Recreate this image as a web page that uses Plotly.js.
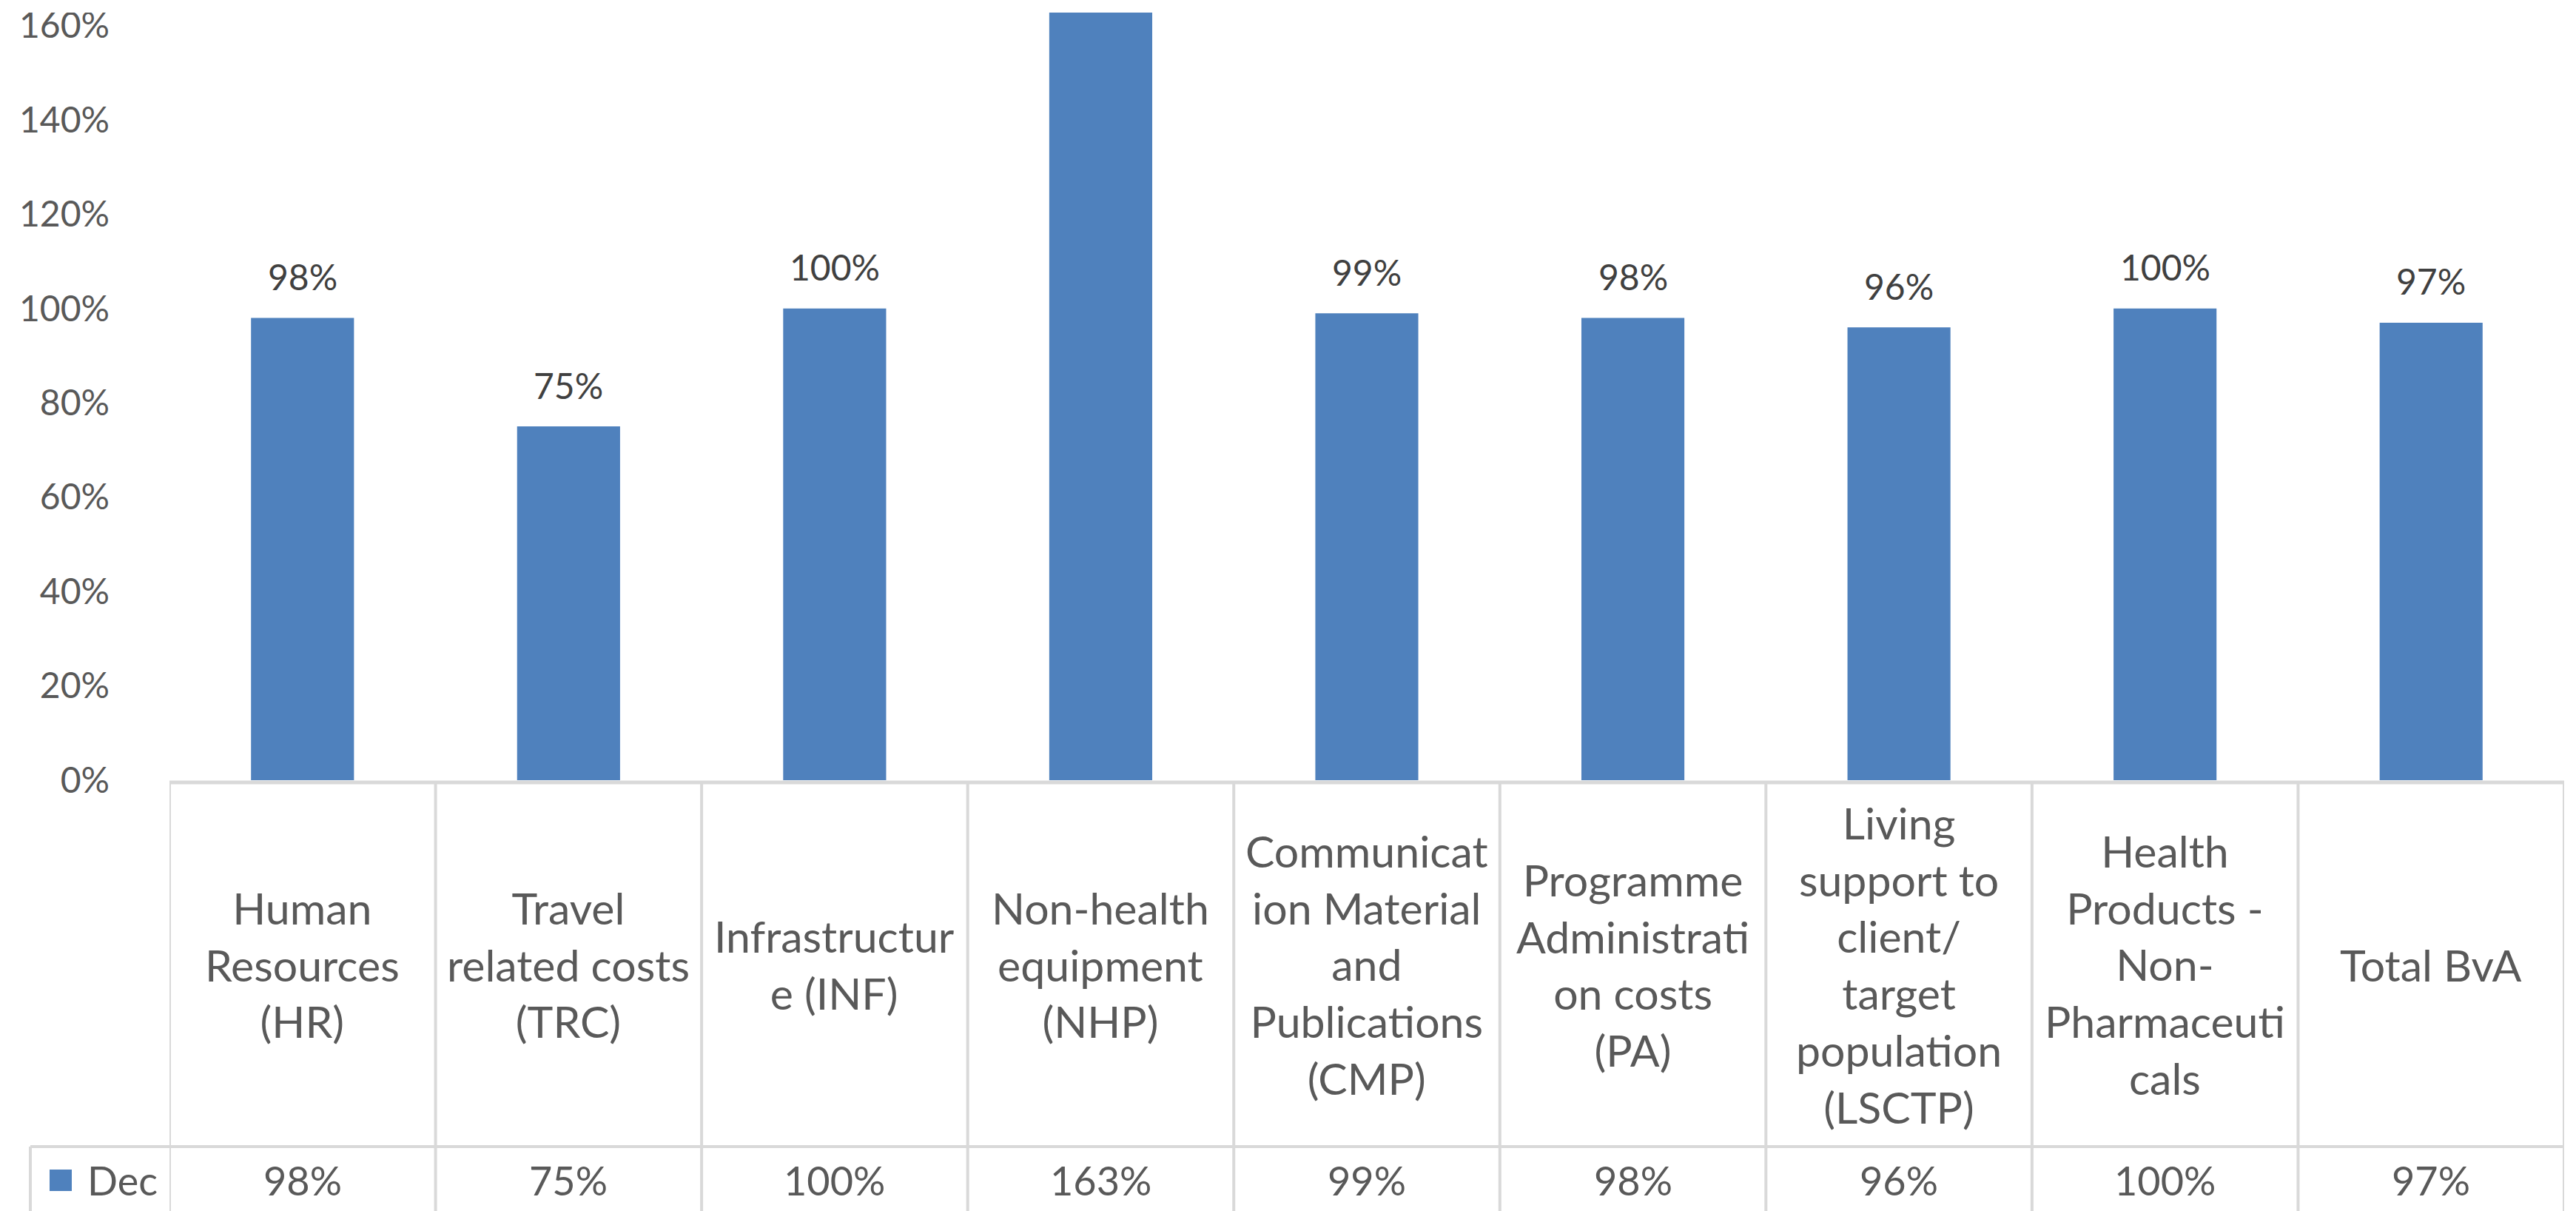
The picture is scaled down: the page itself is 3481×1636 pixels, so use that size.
<!DOCTYPE html>
<html>
<head>
<meta charset="utf-8">
<script src="https://cdn.plot.ly/plotly-3.0.1.min.js"></script>
<style>
  html, body { margin:0; padding:0; width:3481px; height:1636px; overflow:hidden; background:#ffffff; }
  #chart { position:absolute; left:0; top:-130px; width:3481px; height:1766px; }
</style>
</head>
<body>
<div id="chart"></div>
<script>
// ---- data ----
const categories = [
  "Human Resources (HR)",
  "Travel related costs (TRC)",
  "Infrastructure (INF)",
  "Non-health equipment (NHP)",
  "Communication Material and Publications (CMP)",
  "Programme Administration costs (PA)",
  "Living support to client/ target population (LSCTP)",
  "Health Products - Non-Pharmaceuticals",
  "Total BvA"
];
const tableLabels = [
  "Human<br>Resources<br>(HR)",
  "Travel<br>related costs<br>(TRC)",
  "Infrastructur<br>e (INF)",
  "Non-health<br>equipment<br>(NHP)",
  "Communicat<br>ion Material<br>and<br>Publications<br>(CMP)",
  "Programme<br>Administrati<br>on costs<br>(PA)",
  "Living<br>support to<br>client/<br>target<br>population<br>(LSCTP)",
  "Health<br>Products -<br>Non-<br>Pharmaceuti<br>cals",
  "Total BvA"
];
const seriesName = "Dec";
const decValues = [98, 75, 100, 163, 99, 98, 96, 100, 97];
const yTicks = [0, 20, 40, 60, 80, 100, 120, 140, 160, 180];

// ---- geometry helpers (page pixels -> paper coords) ----
const DIV_TOP = -130;          // div offset on page
const PLOT_LEFT = 229, PLOT_RIGHT = 3465;
const PLOT_BOTTOM_PAGE = 1054; // value 0
const PLOT_H = 1147;           // 180% span
const PLOT_W = PLOT_RIGHT - PLOT_LEFT;
const DIV_H = 1766;
function py(pageY) { return (PLOT_BOTTOM_PAGE - pageY) / PLOT_H; }
function px(pageX) { return (pageX - PLOT_LEFT) / PLOT_W; }

const FONT = "Lato, 'Open Sans', sans-serif";
const GRID = "#D9D9D9";
const BAR = "#4F81BD";
const TXT = "#595959";

const trace = {
  type: "bar",
  x: categories,
  y: decValues,
  name: seriesName,
  marker: { color: BAR, line: { width: 0 } },
  hoverinfo: "skip"
};

const shapes = [];
// vertical table lines
for (let k = 0; k <= categories.length; k++) {
  shapes.push({ type:"line", xref:"x", yref:"paper", x0:k-0.5, x1:k-0.5,
    y0:py(1057), y1:py(1645), line:{color:GRID, width:4}, layer:"above" });
}
// Dec cell left border
shapes.push({ type:"line", xref:"paper", yref:"paper", x0:px(41), x1:px(41),
  y0:py(1549), y1:py(1645), line:{color:GRID, width:4}, layer:"above" });
// top table line (axis line)
shapes.push({ type:"line", xref:"paper", yref:"paper", x0:0, x1:1,
  y0:py(1057), y1:py(1057), line:{color:GRID, width:5}, layer:"above" });
// row separator
shapes.push({ type:"line", xref:"paper", yref:"paper", x0:px(41), x1:1,
  y0:py(1549), y1:py(1549), line:{color:GRID, width:4}, layer:"above" });
// legend key square
shapes.push({ type:"rect", xref:"paper", yref:"paper", x0:px(67), x1:px(97),
  y0:py(1609), y1:py(1580), fillcolor:BAR, line:{width:0}, layer:"above" });
// top crop strip (reference picture is cut at the top)
shapes.push({ type:"rect", xref:"paper", yref:"paper", x0:-0.1, x1:1.01,
  y0:py(17), y1:py(-140), fillcolor:"#ffffff", line:{width:0}, layer:"above" });

const annotations = [];
categories.forEach((c, i) => {
  // data labels above bars
  annotations.push({ xref:"x", yref:"y", x:c, y:decValues[i], text:decValues[i] + "%",
    showarrow:false, yanchor:"middle", yshift:56,
    font:{family:FONT, size:48, color:"#404040"} });
  // category labels in the data table
  annotations.push({ xref:"x", yref:"paper", x:c, y:py(1303), text:tableLabels[i],
    showarrow:false, yanchor:"middle", align:"center",
    font:{family:FONT, size:59, color:TXT} });
  // value row of the data table
  annotations.push({ xref:"x", yref:"paper", x:c, y:py(1595), text:decValues[i] + "%",
    showarrow:false, yanchor:"middle",
    font:{family:FONT, size:54, color:TXT} });
});
annotations.push({ xref:"paper", yref:"paper", x:px(116), y:py(1595), text:seriesName,
  showarrow:false, xanchor:"left", yanchor:"middle",
  font:{family:FONT, size:54, color:TXT} });

const plotBottomDiv = PLOT_BOTTOM_PAGE - DIV_TOP;
const layout = {
  width: 3481,
  height: DIV_H,
  margin: { l: PLOT_LEFT, r: 3481 - PLOT_RIGHT, t: plotBottomDiv - PLOT_H, b: DIV_H - plotBottomDiv },
  paper_bgcolor: "#ffffff",
  plot_bgcolor: "#ffffff",
  showlegend: false,
  bargap: 0.613,
  xaxis: {
    type: "category",
    range: [-0.5, categories.length - 0.5],
    showticklabels: false,
    showgrid: false, zeroline: false, showline: false, ticks: ""
  },
  yaxis: {
    range: [0, 180],
    tickvals: yTicks,
    ticktext: yTicks.map(v => v + "%"),
    showgrid: false, zeroline: false, showline: false, ticks: "",
    ticklabelstandoff: 80,
    tickfont: { family: FONT, size: 48, color: TXT }
  },
  shapes: shapes,
  annotations: annotations
};

Plotly.newPlot("chart", [trace], layout, { staticPlot: true, displayModeBar: false });
</script>
</body>
</html>
